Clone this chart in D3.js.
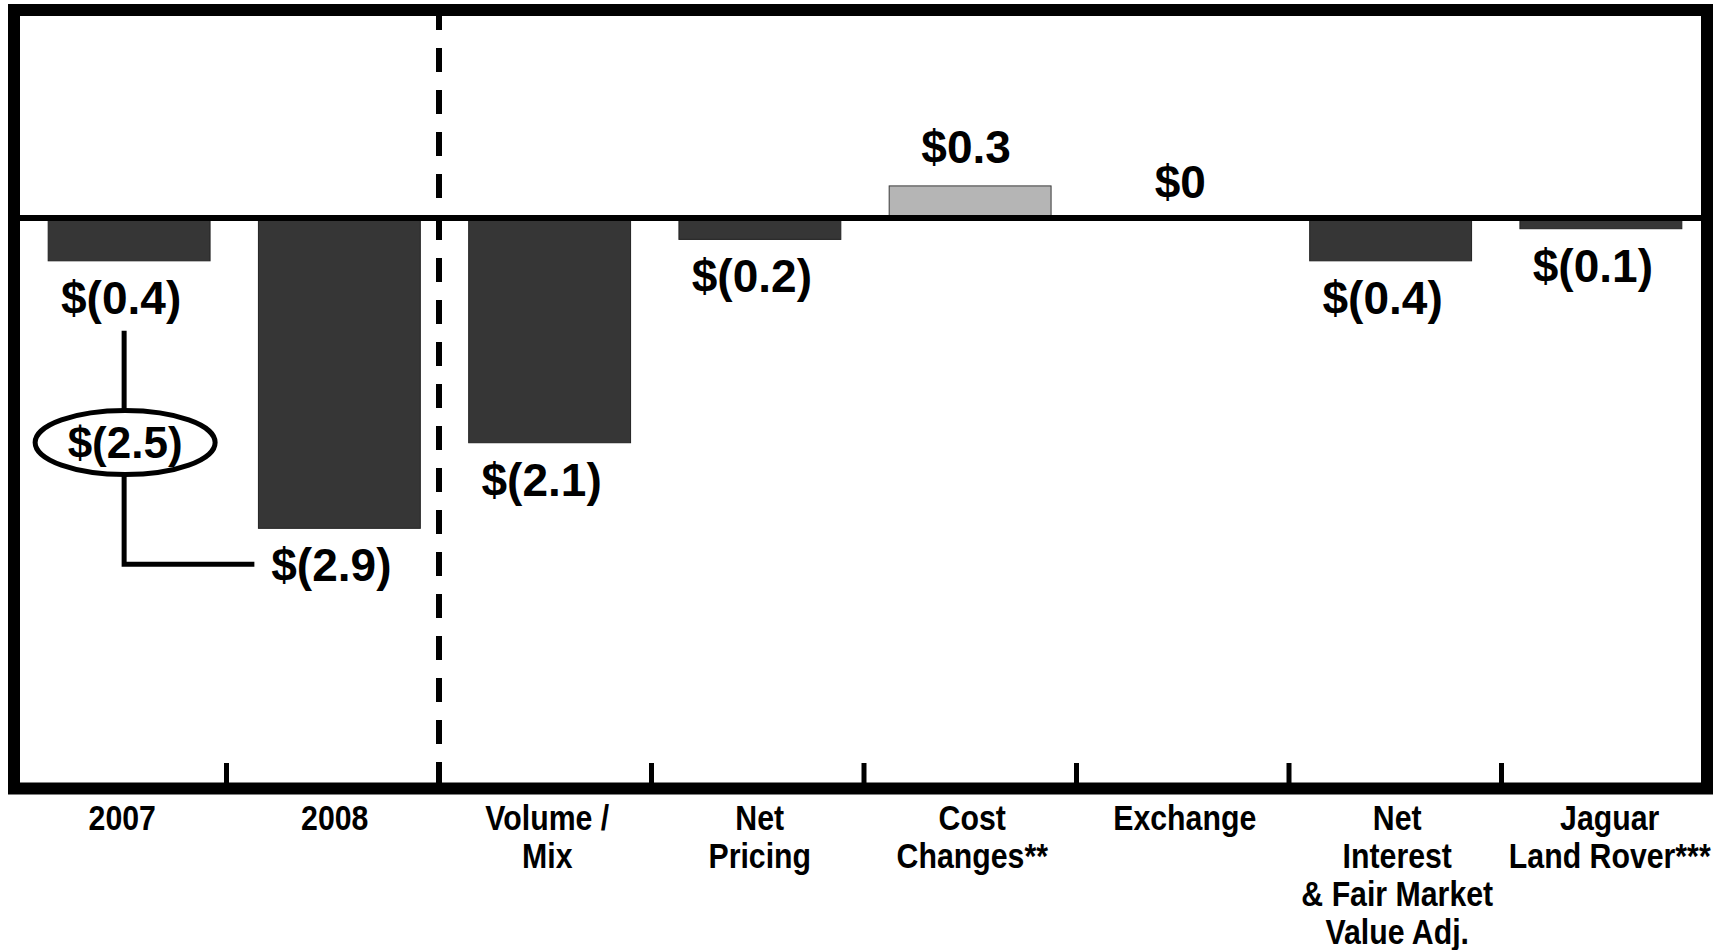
<!DOCTYPE html>
<html>
<head>
<meta charset="utf-8">
<script src="https://cdn.jsdelivr.net/npm/d3@7"></script>
<style>
  body { margin: 0; background: #fff; }
  svg { display: block; }
  text { font-family: "Liberation Sans", Arial, Helvetica, sans-serif; font-weight: bold; fill: #000; }
</style>
</head>
<body>
<svg id="chart" width="1719" height="950"></svg>
<script>
// chart data
var categories = ["2007", "2008", "Volume / Mix", "Net Pricing", "Cost Changes**", "Exchange",
    "Net Interest & Fair Market Value Adj.", "Jaguar Land Rover***"];
var categoryLines = [["2007"], ["2008"], ["Volume /", "Mix"], ["Net", "Pricing"], ["Cost", "Changes**"],
    ["Exchange"], ["Net", "Interest", "& Fair Market", "Value Adj."], ["Jaguar", "Land Rover***"]];
var values = [-0.4, -2.9, -2.1, -0.2, 0.3, 0, -0.4, -0.1];
var valueLabels = ["$(0.4)", "$(2.9)", "$(2.1)", "$(0.2)", "$0.3", "$0", "$(0.4)", "$(0.1)"];
var yearChange = -2.5;
var yearChangeLabel = "$(2.5)";

var W = 1719, H = 950;
var frame = { left: 14, top: 10, right: 1707, bottom: 788.5 };
var inner = { top: 16, bottom: 783 };

var svg = d3.select("#chart");

// bars scale / axis scale (ticks + category names sit on a slightly wider grid than the bars)
var x = d3.scaleBand().domain(categories).range([24, 1706]).paddingInner(0.23).paddingOuter(0.115);
var axisX = d3.scaleBand().domain(categories).range([16, 1716]);
var y = d3.scaleLinear().domain([-5.28, 1.888]).range([inner.bottom, inner.top]);

var cx = function (c) { return x(c) + x.bandwidth() / 2; };
var ax = function (c) { return axisX(c) + axisX.bandwidth() / 2; };

// bars
svg.append("g").selectAll("rect")
    .data(categories.filter(function (c, i) { return values[i] !== 0; }))
    .join("rect")
    .attr("x", function (c) { return x(c); })
    .attr("y", function (c) { return y(Math.max(0, values[categories.indexOf(c)])); })
    .attr("width", x.bandwidth())
    .attr("height", function (c) { return Math.abs(y(values[categories.indexOf(c)]) - y(0)); })
    .style("fill", function (c) { return values[categories.indexOf(c)] > 0 ? "#b5b5b5" : "#363636"; })
    .style("stroke", function (c) { return values[categories.indexOf(c)] > 0 ? "#3a3a3a" : "#222"; })
    .style("stroke-width", 1);

// zero line
svg.append("line")
    .attr("x1", frame.left).attr("x2", frame.right)
    .attr("y1", y(0)).attr("y2", y(0))
    .style("stroke", "#000").style("stroke-width", 6);

// dashed divider between the years and the bridge items
var divX = axisX(categories[2]) - 2;
svg.append("line")
    .attr("x1", divX).attr("x2", divX)
    .attr("y1", inner.top).attr("y2", inner.bottom)
    .style("stroke", "#000").style("stroke-width", 6)
    .style("stroke-dasharray", "24,18").style("stroke-dashoffset", 10);

// ticks on the bottom edge
svg.append("g").selectAll("line")
    .data(categories.slice(1))
    .join("line")
    .attr("x1", function (c) { return axisX(c) - 2; })
    .attr("x2", function (c) { return axisX(c) - 2; })
    .attr("y1", inner.bottom - 20).attr("y2", inner.bottom)
    .style("stroke", "#000").style("stroke-width", 5);

// frame
svg.append("rect")
    .attr("x", frame.left).attr("y", frame.top)
    .attr("width", frame.right - frame.left).attr("height", frame.bottom - frame.top)
    .style("fill", "none").style("stroke", "#000").style("stroke-width", 12);

// value labels
svg.append("g").selectAll("text")
    .data(categories)
    .join("text")
    .attr("x", function (c, i) { return cx(c) + (values[i] < 0 ? -8 : values[i] > 0 ? -4 : 0); })
    .attr("y", function (c, i) {
        var v = values[i];
        if (v < 0) return y(v) + 53;
        if (v > 0) return y(v) - 23;
        return y(0) - 20;
    })
    .attr("text-anchor", "middle")
    .style("font-size", "46px")
    .text(function (c, i) { return valueLabels[i]; });

// category labels (condensed)
var catG = svg.append("g").selectAll("g")
    .data(categories)
    .join("g")
    .attr("transform", function (c) { return "translate(" + ax(c) + ",830) scale(0.865,1)"; });
catG.selectAll("text")
    .data(function (c, i) { return categoryLines[i]; })
    .join("text")
    .attr("x", 0)
    .attr("y", function (d, j) { return j * 38; })
    .attr("text-anchor", "middle")
    .style("font-size", "35px")
    .text(function (d) { return d; });

// 2007 -> 2008 change callout
var lx = cx(categories[0]) - 5;
var topY = y(values[0]) + 70;
var botY = y(values[1]) + 36;
var endX = cx(categories[1]) - 85;
var ey = (topY + botY) / 2 - 5, rx = 90, ry = 32;
var call = svg.append("g").style("fill", "none").style("stroke", "#000").style("stroke-width", 5);
call.append("path")
    .attr("d", "M" + lx + "," + topY + "V" + (ey - ry) + "M" + lx + "," + (ey + ry) + "V" + botY + "H" + endX);
call.append("ellipse")
    .attr("cx", lx + 1).attr("cy", ey).attr("rx", rx).attr("ry", ry)
    .style("fill", "#fff");
svg.append("text")
    .attr("x", lx + 1).attr("y", ey + 15)
    .attr("text-anchor", "middle")
    .style("font-size", "44px")
    .text(yearChange < 0 ? yearChangeLabel : "$" + yearChange);
</script>
</body>
</html>
